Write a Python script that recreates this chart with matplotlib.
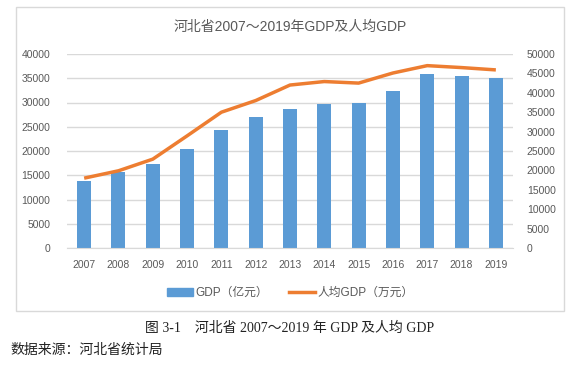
import numpy as np
import matplotlib.pyplot as plt
from matplotlib.patches import Rectangle
from matplotlib.lines import Line2D
from matplotlib.patches import Patch

plt.rcParams["font.family"] = ["Liberation Sans", "Noto Sans CJK SC"]
plt.rcParams["axes.unicode_minus"] = False

years = ["2007", "2008", "2009", "2010", "2011", "2012", "2013",
         "2014", "2015", "2016", "2017", "2018", "2019"]
gdp = [13800, 15700, 17300, 20400, 24300, 27000, 28600,
       29600, 29900, 32400, 35900, 35500, 35100]
gdp_pc = [18000, 19900, 22900, 28900, 35000, 38000, 42000,
          42900, 42500, 45100, 47000, 46500, 45900]

grey = "#595959"
gridc = "#d9d9d9"

fig = plt.figure(figsize=(5.84, 3.67), dpi=100)
# 外框
fig.patches.append(Rectangle((16 / 584, 1 - 311 / 367), 548 / 584, 304 / 367,
                             transform=fig.transFigure, fill=False,
                             edgecolor=gridc, linewidth=1))

ax = fig.add_axes([67 / 584, 1 - 248 / 367, 446 / 584, 194 / 367])
x = np.arange(len(years))
ax.bar(x, gdp, width=0.41, color="#5b9bd5", zorder=2)
ax.set_xlim(-0.5, len(years) - 0.5)
ax.set_ylim(0, 40000)
ax.set_yticks(np.arange(0, 40001, 5000))
ax.set_xticks(x)
ax.set_xticklabels(years)
ax.grid(axis="y", color=gridc, linewidth=1, zorder=0)
ax.set_axisbelow(True)
for s in ["top", "left", "right"]:
    ax.spines[s].set_visible(False)
ax.spines["bottom"].set_color(gridc)
ax.tick_params(axis="both", length=0, labelsize=7.5, labelcolor=grey)
ax.tick_params(axis="y", pad=12)
ax.tick_params(axis="x", pad=9)

ax2 = ax.twinx()
ax2.plot(x, gdp_pc, color="#ed7d31", linewidth=2.5, solid_capstyle="butt", zorder=3)
ax2.set_ylim(0, 50000)
ax2.set_yticks(np.arange(0, 50001, 5000))
for s in ["top", "left", "right", "bottom"]:
    ax2.spines[s].set_visible(False)
ax2.tick_params(axis="y", length=0, labelsize=7.5, labelcolor=grey, pad=10)

fig.text(290 / 584, 1 - 27 / 367, "河北省2007～2019年GDP及人均GDP",
         ha="center", va="center", fontsize=10, color=grey)

handles = [Patch(color="#5b9bd5"),
           Line2D([0], [0], color="#ed7d31", linewidth=2.5)]
fig.legend(handles, ["GDP（亿元）", "人均GDP（万元）"], loc="center",
           bbox_to_anchor=(290 / 584, 1 - 293 / 367), ncol=2, frameon=False,
           fontsize=8.5, labelcolor=grey, handlelength=2.2, handleheight=0.6,
           columnspacing=1.8, handletextpad=0.2)

cap_font = ["Liberation Serif", "Noto Sans CJK SC"]
fig.text(290 / 584, 1 - 328 / 367, "图 3-1    河北省 2007～2019 年 GDP 及人均 GDP",
         ha="center", va="center", fontsize=10, family=cap_font, color="#222222")
fig.text(10 / 584, 1 - 350 / 367, "数据来源：河北省统计局",
         ha="left", va="center", fontsize=10, family=cap_font, color="#222222")

fig.savefig("out.png", dpi=100)
